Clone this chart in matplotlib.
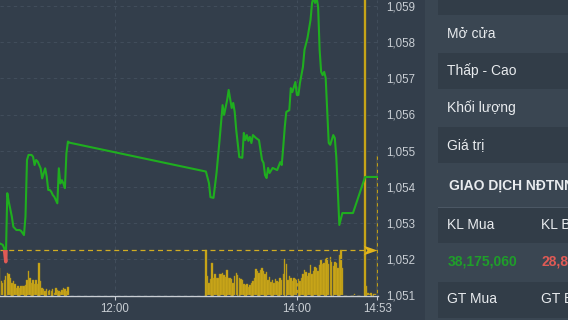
import matplotlib
matplotlib.use("Agg")
import matplotlib.pyplot as plt
import numpy as np
from matplotlib.patches import Rectangle
from matplotlib.path import Path
from matplotlib.ticker import FuncFormatter

plt.rcParams["font.family"] = ["Liberation Sans", "DejaVu Sans"]

# ---- data ----
ref_price = 1052.25

am_times = ["10:43", "10:44", "10:46", "10:47", "10:48",
            "10:49", "10:50", "10:52", "10:53", "10:55",
            "10:57", "10:58", "11:00", "11:01", "11:02",
            "11:03", "11:05", "11:06", "11:07", "11:08",
            "11:09", "11:11", "11:12", "11:13", "11:14",
            "11:15", "11:16", "11:17", "11:18", "11:19",
            "11:20", "11:22", "11:23", "11:24", "11:25",
            "11:26", "11:27", "11:28", "11:29", "11:30"]
am_prices = [1052.45, 1052.43, 1052.39, 1052.29, 1051.92,
             1053.82, 1053.58, 1053.17, 1052.89, 1052.80,
             1052.80, 1052.78, 1052.66, 1053.17, 1054.74,
             1054.88, 1054.88, 1054.83, 1054.60, 1054.74,
             1054.70, 1054.51, 1054.23, 1054.37, 1054.51,
             1054.28, 1053.91, 1053.91, 1053.86, 1053.77,
             1053.72, 1053.54, 1054.51, 1054.09, 1054.18,
             1054.09, 1053.96, 1054.93, 1055.25, 1055.22]

pm_times = ["13:00", "13:02", "13:03", "13:05", "13:07",
            "13:09", "13:11", "13:12", "13:14", "13:15",
            "13:17", "13:18", "13:19", "13:20", "13:22",
            "13:24", "13:25", "13:26", "13:27", "13:28",
            "13:29", "13:30", "13:31", "13:33", "13:35",
            "13:37", "13:38", "13:39", "13:40", "13:41",
            "13:42", "13:44", "13:47", "13:49", "13:50",
            "13:51", "13:52", "13:53", "13:55", "13:56",
            "13:57", "13:59", "14:00", "14:01", "14:02",
            "14:04", "14:05", "14:07", "14:09", "14:10",
            "14:11", "14:12", "14:13", "14:14", "14:15",
            "14:16", "14:17", "14:18", "14:19", "14:21",
            "14:22", "14:24", "14:25", "14:26", "14:28",
            "14:30", "14:37", "14:45", "14:53"]
pm_prices = [1054.42, 1054.10, 1053.71, 1053.69, 1054.38,
             1055.29, 1056.26, 1055.99, 1056.40, 1056.68,
             1056.18, 1056.32, 1056.07, 1055.57, 1054.82,
             1054.80, 1055.49, 1055.29, 1055.43, 1055.27,
             1055.38, 1055.21, 1055.43, 1055.35, 1055.29,
             1054.74, 1054.66, 1054.32, 1054.24, 1054.52,
             1054.38, 1054.52, 1054.46, 1054.68, 1054.60,
             1055.10, 1055.65, 1056.07, 1056.12, 1056.73,
             1056.62, 1056.90, 1056.54, 1056.54, 1056.87,
             1057.32, 1057.79, 1058.12, 1058.62, 1059.09,
             1059.25, 1059.09, 1059.25, 1058.98, 1057.79,
             1057.18, 1057.09, 1057.18, 1057.01, 1055.21,
             1055.16, 1055.43, 1055.35, 1054.82, 1052.94,
             1053.27, 1053.27, 1054.27, 1054.27]

# volume per minute (relative units), morning from 10:44, afternoon from 13:00
vol_am_start = "10:44"
vol_am = [28, 15, 13, 16, 20, 23, 22, 18, 13, 15,
          12, 8, 10, 8, 10, 10, 10, 11, 16, 25,
          18, 13, 16, 12, 16, 12, 33, 15, 8, 7,
          5, 7, 5, 6, 5, 7, 3, 8, 6, 5,
          4, 6, 8, 7, 5, 9]
vol_pm_start = "13:00"
vol_pm = [46,
          20, 13, 17, 33, 18, 22, 18, 18, 22, 22,
          23, 21, 19, 26, 18, 18, 17, 13, 20, 23,
          21, 18, 17, 16, 12, 11, 12, 9, 11, 13,
          15, 18, 27, 25, 23, 26, 28, 25, 22, 24,
          16, 19, 14, 16, 13, 17, 15, 14, 18, 16,
          22, 37, 32,
          16, 20, 18, 15, 18, 17, 16, 17, 15, 18,
          22, 26, 24, 20, 23, 31, 22, 25, 29, 28,
          25, 31, 36, 32, 33, 37, 38, 32, 39, 34,
          30, 34, 33, 28, 41, 46, 28,
          0, 0, 0, 0, 0, 0, 0, 2, 0, 0, 0, 0, 0, 0,
          400, 10, 3, 2, 3, 0, 2, 2, 140]

x_ticks = ["12:00", "14:00", "14:53"]
y_ticks = [1051, 1052, 1053, 1054, 1055, 1056, 1057, 1058, 1059]

panel_rows = ["Mở cửa", "Thấp - Cao", "Khối lượng", "Giá trị"]
foreign_title = "GIAO DỊCH NĐTNN"
foreign_labels = [("KL Mua", "KL Bán"), ("GT Mua", "GT Bán")]
foreign_values = ["38,175,060", "28,8"]

# ---- colours ----
BG = "#333e4b"
PANEL = "#3a4652"
ROW_DARK = "#323d48"
GREEN = "#1fae1f"
RED = "#e05a55"
VOL = "#d0ab18"
VOL_EDGE = "#a98c18"
YELLOW = "#d2ad22"
TICK = "#c9ced4"
GRID = "#414d5b"
TEXT = "#e8ebee"


def to_minutes(hhmm):
    h, m = hhmm.split(":")
    return int(h) * 60 + int(m)


W, H = 568, 320
fig = plt.figure(figsize=(W / 100, H / 100), dpi=100, facecolor=BG)

ax_vol = fig.add_axes([0, 1 - 296 / H, 378 / W, 296 / H])
ax_vol.set_facecolor(BG)
ax = ax_vol.twinx()

xmin = to_minutes("12:00") - 115 / 1.517
xmax = to_minutes("14:53") + 0.5

# volume bars
am_x = to_minutes(vol_am_start) + np.arange(len(vol_am))
pm_x = to_minutes(vol_pm_start) + np.arange(len(vol_pm))
for xs, vs in ((am_x, vol_am), (pm_x, vol_pm)):
    ax_vol.bar(xs, vs, width=0.95, color=VOL, edgecolor=VOL_EDGE, linewidth=0.3)
ax_vol.set_ylim(0, 296)
ax_vol.set_yticks([])
ax_vol.set_xlim(xmin, xmax)
ax_vol.set_xticks([to_minutes(s) for s in x_ticks], x_ticks)
ax_vol.tick_params(axis="x", length=3, width=0.8, color=TICK, labelcolor=TICK,
                   labelsize=8.3, pad=2)
ax_vol.grid(axis="x", color=GRID, linestyle=(0, (3, 3)), linewidth=0.8)
for side in ("top", "left", "right"):
    ax_vol.spines[side].set_visible(False)
ax_vol.spines["bottom"].set_color(TICK)
ax_vol.spines["bottom"].set_linewidth(1)

# price line, green above reference and red below
t = [to_minutes(s) for s in am_times + pm_times]
p = am_prices + pm_prices
ax.set_xlim(xmin, xmax)
ax.set_ylim(1051 - 1 / 36.1, 1051 + 295 / 36.1)
up, = ax.plot(t, p, color=GREEN, lw=1.5, solid_joinstyle="round", zorder=3)
down, = ax.plot(t, p, color=RED, lw=2.4, zorder=3)
up.set_clip_path(Rectangle((xmin, ref_price), xmax - xmin, 50, transform=ax.transData))
down.set_clip_path(Rectangle((xmin, ref_price - 50), xmax - xmin, 50, transform=ax.transData))

ax.plot([xmin, to_minutes("14:44")], [ref_price, ref_price], color=YELLOW,
        lw=0.9, dashes=(4, 3), zorder=2)
arrow = Path([(-1, -0.7), (1, 0), (-1, 0.7), (-0.45, 0), (-1, -0.7)],
             [Path.MOVETO, Path.LINETO, Path.LINETO, Path.LINETO, Path.CLOSEPOLY])
ax.plot(to_minutes("14:48"), ref_price, marker=arrow, ms=10, color="#e2b41c",
        mec="none", zorder=4)

ax.set_yticks(y_ticks)
ax.yaxis.set_major_formatter(FuncFormatter(lambda v, _: f"{v:,.0f}"))
ax.tick_params(axis="y", length=0, pad=6, labelsize=8.3, labelcolor=TICK)
ax.grid(axis="y", color=GRID, linestyle=(0, (3, 3)), linewidth=0.8, zorder=0)
for s in ax.spines.values():
    s.set_visible(False)


# ---- right info panel ----
def px_rect(x0, y0, x1, y1, color):
    fig.add_artist(Rectangle((x0 / W, 1 - y1 / H), (x1 - x0) / W, (y1 - y0) / H,
                             transform=fig.transFigure, facecolor=color,
                             edgecolor="none", zorder=0))


def px_text(x, y, s, **kw):
    fig.text(x / W, 1 - y / H, s, va="center", ha="left", **kw)


px_rect(425, 0, W, H, PANEL)
for y0, y1 in ((0, 15), (53, 89), (127, 163), (207, 243), (282, 318)):
    px_rect(438, y0, W, y1, ROW_DARK)
px_rect(438, 206.5, W, 207.5, "#4b5764")

for label, yc in zip(panel_rows, (34, 71, 108, 145)):
    px_text(447, yc, label, fontsize=10, color=TEXT)
px_text(449, 186, foreign_title, fontsize=10, color=TEXT, fontweight="bold")
for (buy, sell), yc in zip(foreign_labels, (225, 299)):
    px_text(447, yc, buy, fontsize=10, color=TEXT)
    px_text(541, yc, sell, fontsize=10, color=TEXT)
px_text(448, 262, foreign_values[0], fontsize=10, color="#1f9e2a", fontweight="bold")
px_text(541, 262, foreign_values[1], fontsize=10, color=RED, fontweight="bold")

fig.savefig("out.png", dpi=100, facecolor=BG)
